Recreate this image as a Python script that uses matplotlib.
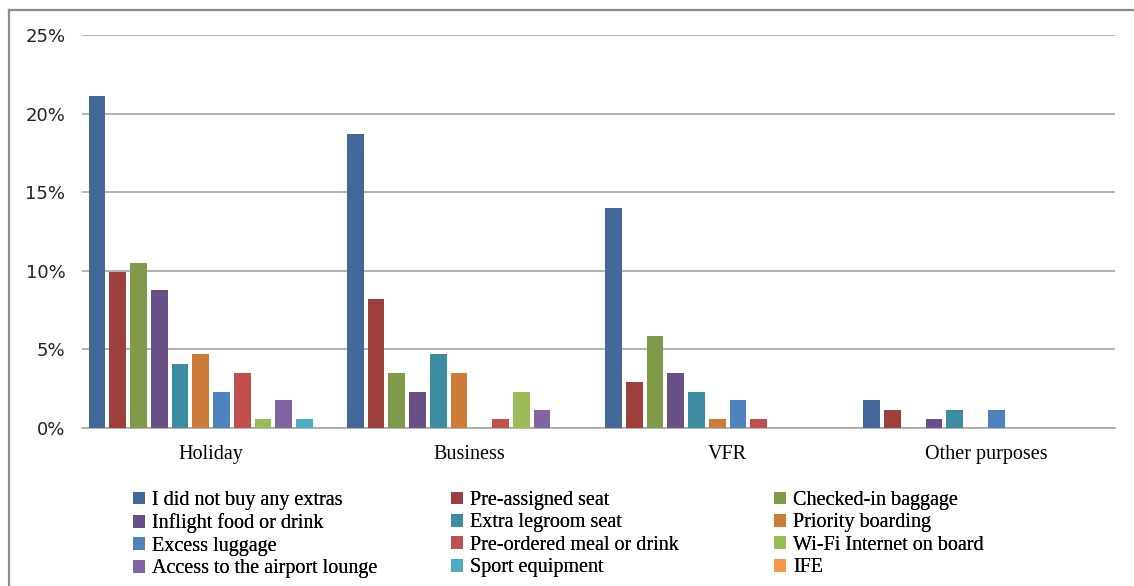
import numpy as np
import matplotlib
matplotlib.use('Agg')
from matplotlib import pyplot as plt
from matplotlib.lines import Line2D
from matplotlib.ticker import PercentFormatter

# Share of respondents (%) by travel purpose and ancillary purchased
purposes = ['Holiday', 'Business', 'VFR', 'Other purposes']
extras = [
    'I did not buy any extras', 'Pre-assigned seat', 'Checked-in baggage',
    'Inflight food or drink', 'Extra legroom seat', 'Priority boarding',
    'Excess luggage', 'Pre-ordered meal or drink', 'Wi-Fi Internet on board',
    'Access to the airport lounge', 'Sport equipment', 'IFE',
]
no_extras = [21.1, 18.7, 14.0, 1.75]
pre_assigned_seat = [9.9, 8.2, 2.9, 1.17]
checked_baggage = [10.5, 3.5, 5.85, 0.0]
inflight_food = [8.8, 2.3, 3.5, 0.58]
extra_legroom = [4.1, 4.7, 2.3, 1.17]
priority_boarding = [4.7, 3.5, 0.58, 0.0]
excess_luggage = [2.3, 0.0, 1.75, 1.17]
pre_ordered_meal = [3.5, 0.58, 0.58, 0.0]
wifi = [0.58, 2.3, 0.0, 0.0]
lounge = [1.75, 1.17, 0.0, 0.0]
sport_equipment = [0.58, 0.0, 0.0, 0.0]
ife = [0.0, 0.0, 0.0, 0.0]

series = [no_extras, pre_assigned_seat, checked_baggage, inflight_food,
          extra_legroom, priority_boarding, excess_luggage, pre_ordered_meal,
          wifi, lounge, sport_equipment, ife]
colors = ['#416899', '#9C3F3D', '#7F9A48', '#684F85', '#3C8CA2', '#CC7B38',
          '#4F81BD', '#C0504D', '#9BBB59', '#8064A2', '#4BACC6', '#F79646']

fig = plt.figure(figsize=(11.34, 5.86), dpi=100)
ax = fig.add_axes([82 / 1134, 1 - 428 / 586, 1033 / 1134, 393 / 586])

x = np.arange(len(purposes))
slot = 0.0803
bars = []
for i, (vals, col) in enumerate(zip(series, colors)):
    offs = (i - (len(series) - 1) / 2) * slot
    b = ax.bar(x + offs, vals, width=slot * 0.81, color=col, label=extras[i], zorder=3)
    bars.append(b)

ax.set_xlim(-0.5, len(purposes) - 0.5)
ax.set_ylim(0, 25)
ax.set_yticks(range(0, 26, 5))
ax.yaxis.set_major_formatter(PercentFormatter(decimals=0))
ax.grid(axis='y', color='#A6A6A6', linewidth=1.2, zorder=0)
ax.set_axisbelow(True)
for s in ['top', 'right', 'left']:
    ax.spines[s].set_visible(False)
ax.spines['bottom'].set_color('#A6A6A6')
ax.spines['bottom'].set_linewidth(1.2)
ax.tick_params(axis='both', length=0)
ax.tick_params(axis='y', pad=12, labelsize=13, labelcolor='#222222')
ax.set_xticks(x)
ax.set_xticklabels(purposes, family='Liberation Serif', fontsize=14.5)
ax.tick_params(axis='x', pad=12)

# legend: three columns of four entries, laid out row by row
col_x = [123 / 1134, 441 / 1134, 764 / 1134]
for c in range(3):
    idx = [c, c + 3, c + 6, c + 9]
    leg = fig.legend([bars[i] for i in idx], [extras[i] for i in idx],
                     loc='upper left', bbox_to_anchor=(col_x[c], 1 - 481 / 586),
                     frameon=False, ncol=1, handlelength=0.6, handleheight=0.6,
                     handletextpad=0.35, labelspacing=0.17, borderpad=0,
                     prop={'family': 'Liberation Serif', 'size': 14.5})
    fig.add_artist(leg)

# chart area border (left and top edges)
fig.add_artist(Line2D([9 / 1134, 9 / 1134], [0, 1 - 10 / 586], color='#8C8C8C', lw=1.6))
fig.add_artist(Line2D([9 / 1134, 1], [1 - 10 / 586, 1 - 10 / 586], color='#8C8C8C', lw=1.6))

fig.savefig('out.png', dpi=100, facecolor='white')
